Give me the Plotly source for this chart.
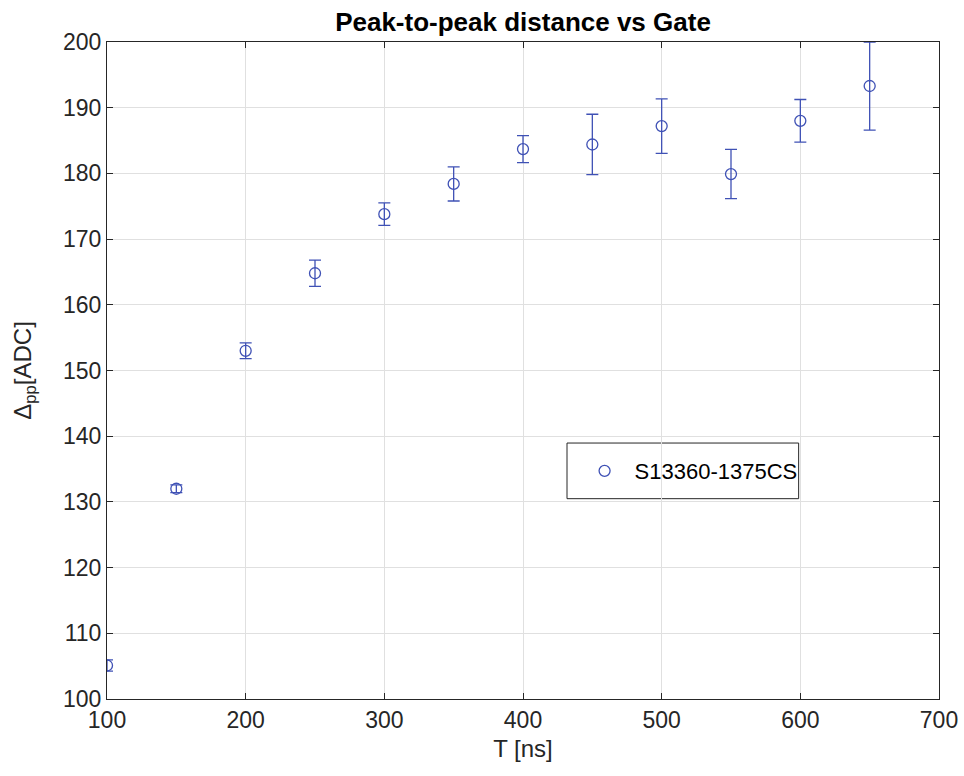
import plotly.graph_objects as go

gate_ns = [100, 150, 200, 250, 300, 350, 400, 450, 500, 550, 600, 650]
delta_pp = [105.1, 132.0, 153.0, 164.8, 173.8, 178.4, 183.7, 184.4, 187.2, 179.9, 188.0, 193.3]
delta_err = [0.85, 0.6, 1.2, 2.0, 1.7, 2.6, 2.05, 4.6, 4.15, 3.75, 3.25, 6.7]
series_name = "S13360-1375CS"

x_ticks = [100, 200, 300, 400, 500, 600, 700]
y_ticks = [100, 110, 120, 130, 140, 150, 160, 170, 180, 190, 200]

blue = "rgb(63,81,181)"
axcol = "#262626"
font_fam = "Liberation Sans, Arial"

W, H = 964, 776
ML, MR, MT, MB = 107, 25, 42, 77

fig = go.Figure()
fig.add_trace(go.Scatter(
    x=gate_ns, y=delta_pp, mode="markers", name=series_name,
    marker=dict(symbol="circle-open", size=11, color=blue, line=dict(width=1.3, color=blue)),
    error_y=dict(type="data", array=delta_err, visible=True, color=blue, thickness=1.3, width=6),
))

axis_common = dict(
    showline=True, linecolor=axcol, linewidth=1, mirror="ticks",
    ticks="inside", ticklen=6, tickcolor=axcol,
    showgrid=True, gridcolor="#e0e0e0", gridwidth=1, zeroline=False,
    tickfont=dict(family=font_fam, size=23, color=axcol),
    ticklabeloverflow="allow", automargin=False,
)

# legend frame
fig.add_shape(type="rect", xref="paper", yref="paper",
              x0=0.5529, x1=0.8313, y0=0.3049, y1=0.3896,
              line=dict(color=axcol, width=1), fillcolor="white", layer="below")

fig.update_layout(
    width=W, height=H,
    paper_bgcolor="white", plot_bgcolor="white",
    margin=dict(l=ML, r=MR, t=MT, b=MB),
    title=dict(text="<b>Peak-to-peak distance vs Gate</b>", x=(ML + 832 / 2) / W, xanchor="center",
               y=1 - 22 / H, yanchor="middle",
               font=dict(family=font_fam, size=26, color="black")),
    xaxis=dict(range=[100, 700], tickvals=x_ticks,
               title=dict(text="T [ns]", standoff=8,
                          font=dict(family=font_fam, size=24, color=axcol)),
               **axis_common),
    yaxis=dict(range=[100, 200], tickvals=y_ticks,
               title=dict(text="Δ<sub>pp</sub>[ADC]", standoff=24,
                          font=dict(family=font_fam, size=24, color=axcol)),
               **axis_common),
    showlegend=True,
    legend=dict(x=0.562, y=0.347, xanchor="left", yanchor="middle",
                bgcolor="rgba(0,0,0,0)", borderwidth=0,
                font=dict(family=font_fam, size=22, color="black"),
                itemwidth=50),
)

fig.write_html("out.html", config={"displayModeBar": False},
               post_script="document.body.style.margin='0px';")
